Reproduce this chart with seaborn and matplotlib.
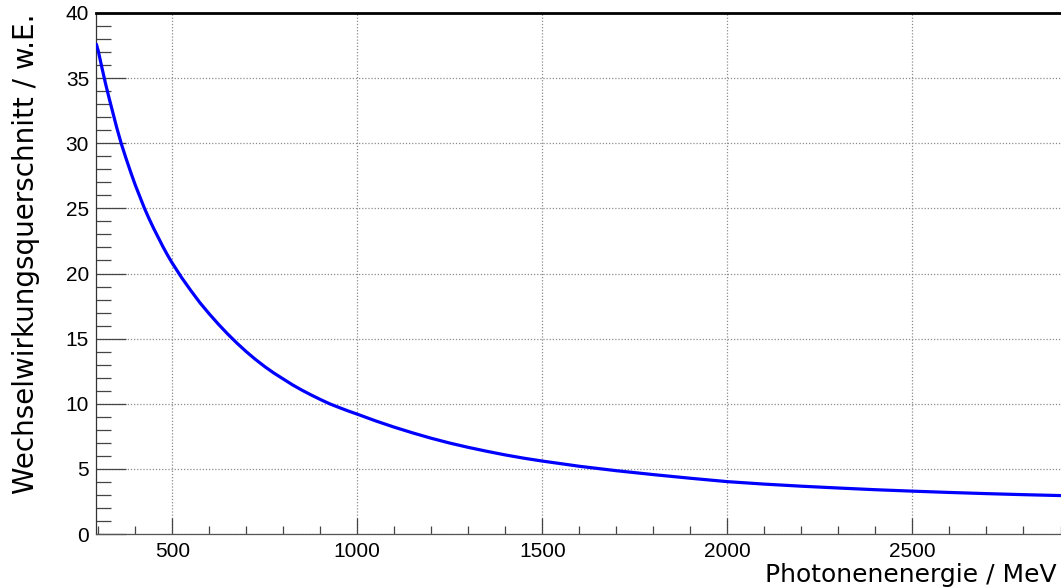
import matplotlib
matplotlib.use("Agg")
import matplotlib.pyplot as plt
import seaborn as sns
import pandas as pd
from matplotlib.ticker import MultipleLocator

# Data
energy_mev = [295, 300, 310, 320, 330, 340, 350, 362.5, 375, 387.5, 400, 412.5,
              425, 437.5, 450, 462.5, 475, 487.5, 500, 525, 550, 575, 600, 625,
              650, 675, 700, 725, 750, 775, 800, 825, 850, 875, 900, 925, 950,
              975, 1000, 1050, 1100, 1150, 1200, 1250, 1300, 1350, 1400, 1450,
              1500, 1600, 1700, 1800, 1900, 2000, 2100, 2200, 2300, 2400, 2500,
              2600, 2700, 2800, 2900]
cross_section = [37.6, 37.1, 35.8, 34.55, 33.4, 32.3, 31.2, 29.95, 28.85,
                 27.8, 26.8, 25.9, 25.0, 24.2, 23.45, 22.75, 22.05, 21.4,
                 20.8, 19.7, 18.7, 17.75, 16.9, 16.1, 15.35, 14.65, 14.0,
                 13.4, 12.85, 12.35, 11.9, 11.45, 11.05, 10.68, 10.33, 10.0,
                 9.72, 9.45, 9.2, 8.68, 8.2, 7.76, 7.35, 6.98, 6.65, 6.35,
                 6.07, 5.82, 5.6, 5.2, 4.86, 4.56, 4.28, 4.02, 3.83, 3.67,
                 3.53, 3.4, 3.29, 3.19, 3.1, 3.02, 2.95]

x_label = "Photonenenergie / MeV"
y_label = "Wechselwirkungsquerschnitt / w.E."

df = pd.DataFrame({"E": energy_mev, "sigma": cross_section})

sns.set_style("ticks")
plt.rcParams["font.family"] = ["Liberation Sans", "DejaVu Sans"]
plt.rcParams["text.color"] = "black"
plt.rcParams["xtick.color"] = "black"
plt.rcParams["ytick.color"] = "black"
plt.rcParams["xtick.labelcolor"] = "black"
plt.rcParams["ytick.labelcolor"] = "black"

W, H = 1061, 588
fig = plt.figure(figsize=(W / 100, H / 100), dpi=100)
ax_left, ax_right, ax_top, ax_bottom = 96, 1060.5, 13, 534
ax = fig.add_axes([ax_left / W, 1 - ax_bottom / H, (ax_right - ax_left) / W,
                   (ax_bottom - ax_top) / H])

sns.lineplot(data=df, x="E", y="sigma", ax=ax, color="#0000ff", linewidth=2.3,
             clip_on=True, zorder=3)

ax.set_xlim(294, 2900)
ax.set_ylim(0, 40)

ax.xaxis.set_major_locator(MultipleLocator(500))
ax.xaxis.set_minor_locator(MultipleLocator(100))
ax.yaxis.set_major_locator(MultipleLocator(5))
ax.yaxis.set_minor_locator(MultipleLocator(1))

ax.grid(True, which="major", linestyle=(0, (1, 1.5)), color="#8c8c8c",
        linewidth=0.9, zorder=0)

common = dict(bottom=True, left=True, top=False, right=False)
ax.tick_params(axis="x", which="major", direction="in", length=11.5,
               width=0.9, color="#444444", pad=6, labelsize=15,
               labelcolor="black", **common)
ax.tick_params(axis="x", which="minor", direction="in", length=5.8,
               width=0.9, color="#444444", **common)
ax.tick_params(axis="y", which="major", direction="in", length=21.6,
               width=0.9, color="#444444", pad=5, labelsize=15,
               labelcolor="black", **common)
ax.tick_params(axis="y", which="minor", direction="in", length=10.8,
               width=0.9, color="#444444", **common)
for lab in ax.get_xticklabels() + ax.get_yticklabels():
    lab.set_fontfamily("Liberation Sans")

ax.spines["right"].set_visible(False)
ax.spines["top"].set_visible(True)
ax.spines["top"].set_linewidth(2.0)
ax.spines["top"].set_color("black")
ax.spines["left"].set_linewidth(0.9)
ax.spines["left"].set_color("#333333")
ax.spines["bottom"].set_linewidth(0.9)
ax.spines["bottom"].set_color("#555555")

ax.set_xlabel("")
ax.set_ylabel("")
fig.text(1057 / W, 1 - 582 / H, x_label, ha="right", va="baseline",
         fontsize=18, family="DejaVu Sans", color="black")
fig.text(26 / W, 1 - 14 / H, y_label, ha="center", va="top", rotation=90,
         fontsize=20, family="DejaVu Sans", color="black")

fig.savefig("out.png", dpi=100)
